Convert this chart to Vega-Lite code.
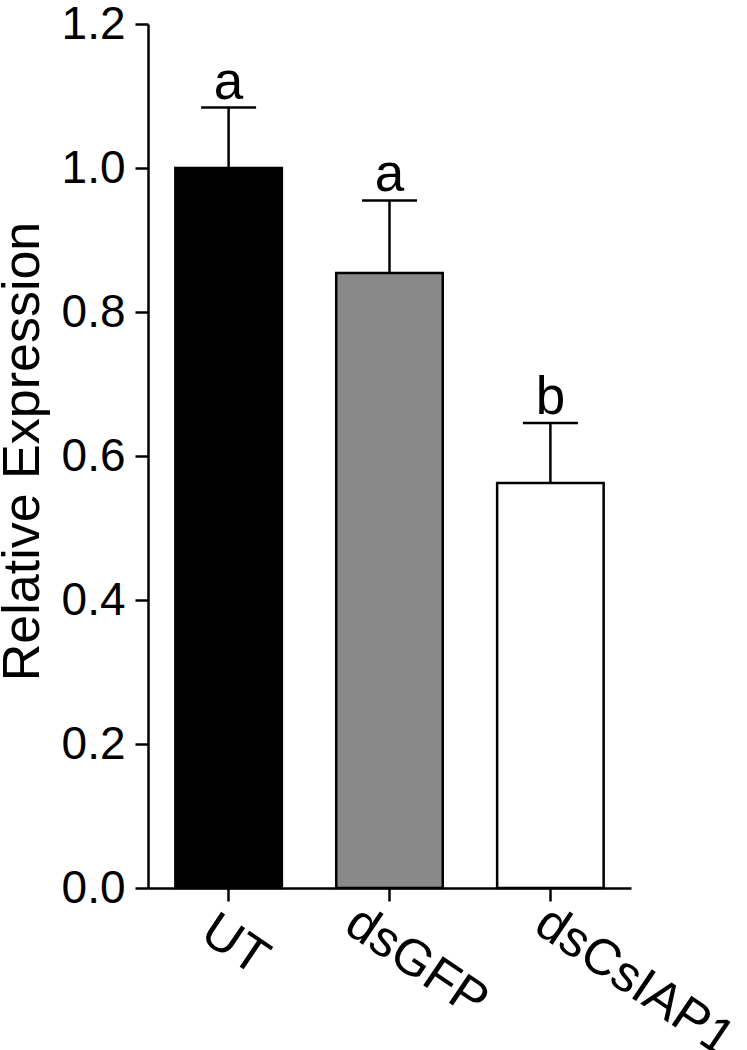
{
  "$schema": "https://vega.github.io/schema/vega-lite/v6.json",
  "autosize": "none",
  "width": 483,
  "height": 864,
  "padding": {"left": 148, "top": 24, "right": 116, "bottom": 162},
  "background": "white",
  "config": {
    "view": {"stroke": null},
    "font": "Liberation Sans",
    "axis": {"grid": false, "domainColor": "black", "tickColor": "black", "labelColor": "black", "titleColor": "black", "domainWidth": 2.5, "tickWidth": 2.5, "tickSize": 13, "labelFont": "Liberation Sans", "titleFont": "Liberation Sans", "titleFontWeight": "normal"}
  },
  "data": {
    "values": [
      {"group": "UT", "mean": 1.0, "upper": 1.084, "sig": "a"},
      {"group": "dsGFP", "mean": 0.854, "upper": 0.955, "sig": "a"},
      {"group": "dsCsIAP1", "mean": 0.5625, "upper": 0.646, "sig": "b"}
    ]
  },
  "encoding": {
    "x": {
      "field": "group", "type": "nominal", "sort": ["UT", "dsGFP", "dsCsIAP1"],
      "scale": {"paddingInner": 0.338, "paddingOuter": 0.17},
      "axis": {
        "title": null,
        "labelAngle": 34,
        "labelAlign": "left",
        "labelBaseline": "top",
        "labelFontSize": 51,
        "labelLimit": 0,
        "labelOffset": {"condition": [{"test": "datum.value === 'UT'", "value": -8}, {"test": "datum.value === 'dsGFP'", "value": -25}], "value": 4},
        "labelPadding": {"condition": {"test": "datum.value === 'UT'", "value": 4}, "value": -4},
        "labelOverlap": false,
        "labelBound": false,
        "labelFlush": false
      }
    }
  },
  "layer": [
    {
      "mark": {"type": "rule", "color": "black", "strokeWidth": 2.5},
      "encoding": {
        "y": {"field": "mean", "type": "quantitative"},
        "y2": {"field": "upper"}
      }
    },
    {
      "mark": {"type": "tick", "color": "black", "size": 55, "thickness": 2.5, "orient": "horizontal", "opacity": 1},
      "encoding": {
        "y": {"field": "upper", "type": "quantitative"}
      }
    },
    {
      "mark": {"type": "bar", "stroke": "black", "strokeWidth": 2.5},
      "encoding": {
        "y": {
          "field": "mean", "type": "quantitative",
          "scale": {"domain": [0, 1.2], "nice": false, "zero": true},
          "axis": {
            "title": "Relative Expression",
            "titleFontSize": 52,
            "titleAngle": -90,
            "titleAlign": "center",
            "titleBaseline": "bottom",
            "titleX": -99,
            "titleY": 427,
            "values": [0, 0.2, 0.4, 0.6, 0.8, 1.0, 1.2],
            "format": ".1f",
            "labelFontSize": 46,
            "labelPadding": 10
          }
        },
        "fill": {
          "field": "group", "type": "nominal",
          "scale": {"domain": ["UT", "dsGFP", "dsCsIAP1"], "range": ["#000000", "#898989", "#ffffff"]},
          "legend": null
        }
      }
    },
    {
      "mark": {"type": "text", "fontSize": 53, "baseline": "alphabetic", "dy": -9, "color": "black", "font": "Liberation Sans"},
      "encoding": {
        "y": {"field": "upper", "type": "quantitative"},
        "text": {"field": "sig"}
      }
    }
  ]
}
